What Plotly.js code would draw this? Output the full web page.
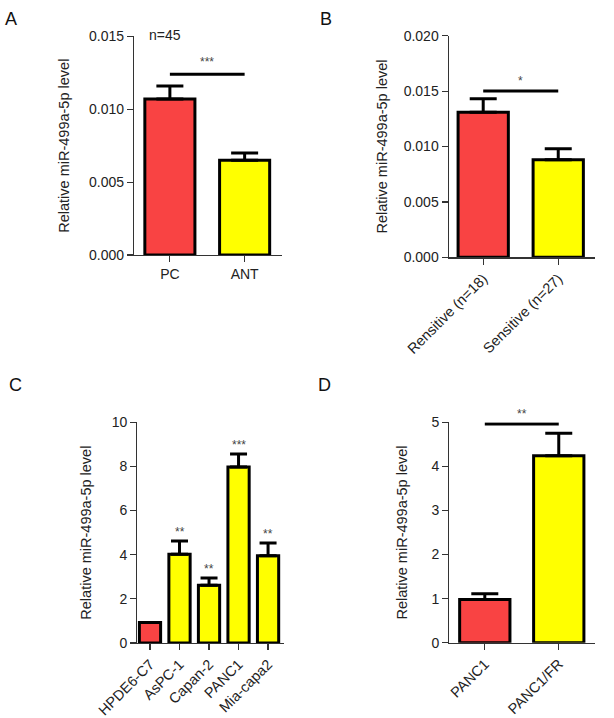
<!DOCTYPE html>
<html>
<head>
<meta charset="utf-8">
<script src="https://cdn.plot.ly/plotly-3.0.1.min.js"></script>
<style>html,body{margin:0;padding:0;background:#fff;}#chart{width:614px;height:718px;}</style>
</head>
<body>
<div id="chart"></div>
<script>
// ---- data ----
const catsA = ['PC', 'ANT'];
const valsA = [0.0107, 0.0065];
const errA = [0.0009, 0.0005];
const sigA = '***';
const sigLevelA = 0.0124;
const nLabelA = 'n=45';

const catsB = ['Rensitive (n=18)', 'Sensitive (n=27)'];
const valsB = [0.0131, 0.0088];
const errB = [0.0012, 0.0010];
const sigB = '*';
const sigLevelB = 0.0150;

const catsC = ['HPDE6-C7', 'AsPC-1', 'Capan-2', 'PANC1', 'Mia-capa2'];
const valsC = [0.93, 4.02, 2.62, 7.98, 3.95];
const errC = [0, 0.60, 0.32, 0.58, 0.58];
const sigC = ['', '**', '**', '***', '**'];

const catsD = ['PANC1', 'PANC1/FR'];
const valsD = [0.98, 4.24];
const errD = [0.13, 0.51];
const sigD = '**';
const sigLevelD = 4.96;

const yTitle = 'Relative miR-499a-5p level';
const panelLetters = ['A', 'B', 'C', 'D'];

// ---- styling ----
const W = 614, H = 718;
const px = v => v / W;
const py = v => 1 - v / H;
const RED = '#F94343', YEL = '#FFFF00';
const FONT = 'Liberation Sans, Arial, Helvetica, sans-serif';
const tickFont = {family: FONT, size: 14, color: '#222'};
const rotFont = {family: FONT, size: 14.5, color: '#222'};
const titleFont = {family: FONT, size: 14.5, color: '#222'};

function colorsFor(n) { return Array.from({length: n}, (_, i) => i === 0 ? RED : YEL); }

function barTrace(cats, vals, errs, xa, ya, width, capHalf) {
  return {
    type: 'bar', x: cats, y: vals, xaxis: xa, yaxis: ya, width: width,
    marker: {color: colorsFor(cats.length), line: {color: '#000', width: 3}},
    error_y: {type: 'data', symmetric: false, array: errs, arrayminus: errs.map(() => 0),
              color: '#000', thickness: 3, width: capHalf},
    hoverinfo: 'x+y', showlegend: false
  };
}

const data = [
  barTrace(catsA, valsA, errA, 'x', 'y', 0.67, 13.5),
  barTrace(catsB, valsB, errB, 'x2', 'y2', 0.67, 13.5),
  barTrace(catsC, valsC, errC, 'x3', 'y3', 0.72, 8.5),
  barTrace(catsD, valsD, errD, 'x4', 'y4', 0.68, 13.5)
];

function xAxis(l, r, anchor, range, angle) {
  return {domain: [px(l), px(r)], anchor: anchor, type: 'category', range: range,
          showline: true, linecolor: '#333', linewidth: 1.2, ticks: 'outside', ticklen: 6,
          tickwidth: 1.2, tickcolor: '#333', tickfont: angle ? rotFont : tickFont, tickangle: angle,
          showgrid: false, zeroline: false, fixedrange: true};
}
function yAxis(bottom, top, anchor, range, dtick, fmt, standoff) {
  return {domain: [py(bottom), py(top)], anchor: anchor, range: range, dtick: dtick, tick0: 0,
          tickformat: fmt, showline: true, linecolor: '#333', linewidth: 1.2, ticks: 'outside',
          ticklen: 6, tickwidth: 1.2, tickcolor: '#333', tickfont: tickFont,
          showgrid: false, zeroline: false, fixedrange: true,
          title: {text: yTitle, font: titleFont, standoff: standoff}};
}

const annotations = [];
// panel letters
const letterPos = [[11, 19], [325.5, 18.5], [15, 385], [324, 385]];
panelLetters.forEach((t, i) => annotations.push({
  text: t, xref: 'paper', yref: 'paper', x: px(letterPos[i][0]), y: py(letterPos[i][1]),
  xanchor: 'center', yanchor: 'middle', showarrow: false,
  font: {family: FONT, size: 18, color: '#111'}
}));
// n=45
annotations.push({text: nLabelA, xref: 'paper', yref: 'paper', x: px(147), y: py(35),
  xanchor: 'left', yanchor: 'middle', showarrow: false, font: {family: FONT, size: 14, color: '#222'}});
// significance stars
function starAt(xref, yref, x, y, t, shift) {
  annotations.push({text: t, xref: xref, yref: yref, x: x, y: y, yshift: shift,
    xanchor: 'center', yanchor: 'middle', showarrow: false,
    font: {family: FONT, size: 12, color: '#444'}});
}
starAt('x', 'y', 0.5, sigLevelA, sigA, 12);
starAt('x2', 'y2', 0.5, sigLevelB, sigB, 10);
starAt('x4', 'y4', 0.5, sigLevelD, sigD, 10);
catsC.forEach((c, i) => { if (sigC[i]) starAt('x3', 'y3', i, valsC[i] + errC[i], sigC[i], 9); });

function sigLine(xref, yref, y) {
  return {type: 'line', xref: xref, yref: yref, x0: 0, x1: 1, y0: y, y1: y,
          line: {color: '#000', width: 3}};
}

const layout = {
  width: W, height: H, margin: {l: 0, r: 0, t: 0, b: 0},
  paper_bgcolor: '#fff', plot_bgcolor: 'rgba(0,0,0,0)',
  font: {family: FONT, color: '#222'},
  showlegend: false, bargap: 0.3,
  xaxis: xAxis(134, 282, 'y', [-0.48, 1.5], 0),
  yaxis: yAxis(255, 36.4, 'x', [0, 0.015], 0.005, '.3f', 15),
  xaxis2: xAxis(448.7, 595, 'y2', [-0.46, 1.49], -45),
  yaxis2: yAxis(257.3, 35.7, 'x2', [0, 0.020], 0.005, '.3f', 12),
  xaxis3: xAxis(137.3, 284, 'y3', [-0.43, 4.54], -45),
  yaxis3: yAxis(643, 422.3, 'x3', [0, 10], 2, 'd', 16),
  xaxis4: xAxis(449.3, 595, 'y4', [-0.48, 1.49], -45),
  yaxis4: yAxis(642.7, 422.3, 'x4', [0, 5], 1, 'd', 20),
  shapes: [sigLine('x', 'y', sigLevelA), sigLine('x2', 'y2', sigLevelB), sigLine('x4', 'y4', sigLevelD)],
  annotations: annotations
};

Plotly.newPlot('chart', data, layout, {staticPlot: true, displayModeBar: false});
</script>
</body>
</html>
